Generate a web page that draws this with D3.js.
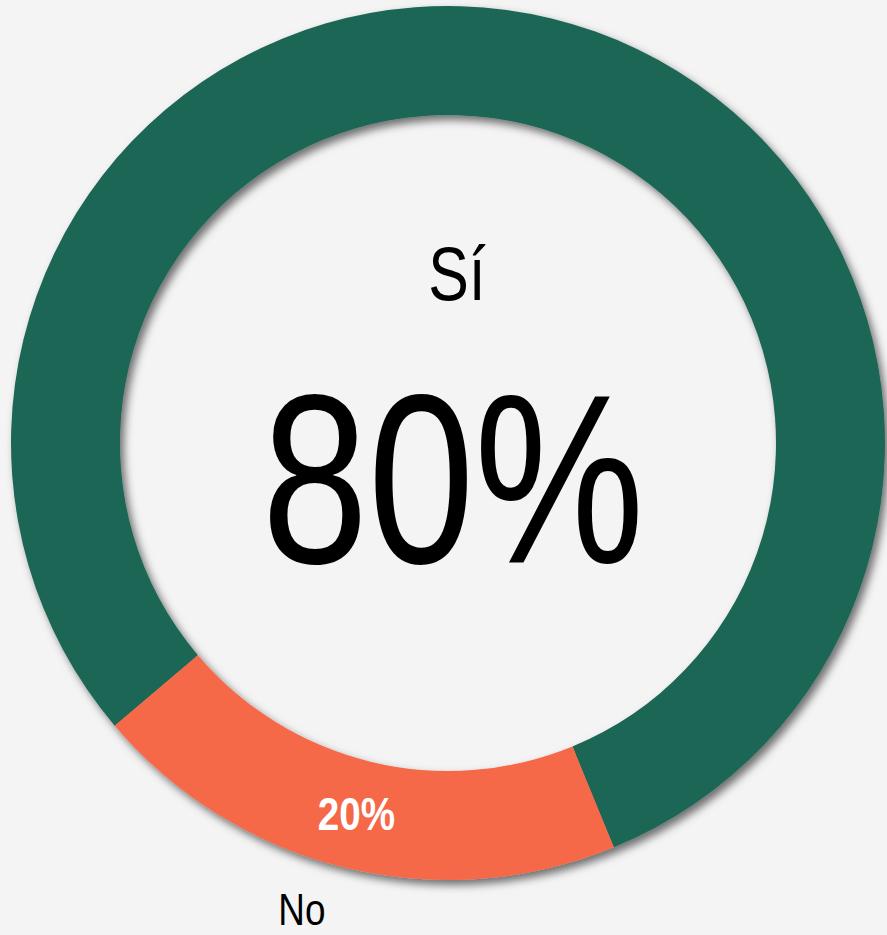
<!DOCTYPE html>
<head>
<style>
body { margin: 0; background: #f4f4f4; }
svg { display: block; }
</style>
</head>
<body>
<svg></svg>
<script src="https://cdn.jsdelivr.net/npm/d3@7"></script>
<script>

var labels = ["Sí", "No"];
var values = [80, 20];
var colors = ["#1d6657", "#f5694a"];

var width = 887, height = 935;
var cx = 448, cy = 443;
var outerR = 437, innerR = 328;

var svg = d3.select("svg").attr("width", width).attr("height", height);

var defs = svg.append("defs");
var filter = defs.append("filter").attr("id", "shadow")
    .attr("x", "-10%").attr("y", "-10%").attr("width", "120%").attr("height", "120%");
filter.append("feDropShadow")
    .attr("dx", 4).attr("dy", 5).attr("stdDeviation", 4)
    .attr("flood-color", "#000").attr("flood-opacity", 0.55);

var data = labels.map(function(l, i) { return {label: l, value: values[i]}; });

var start = -130.3 * Math.PI / 180;
var pie = d3.pie().sort(null).value(function(d) { return d.value; })
    .startAngle(start).endAngle(start + 2 * Math.PI);

var arc = d3.arc().innerRadius(innerR).outerRadius(outerR);

var g = svg.append("g").attr("transform", "translate(" + cx + "," + cy + ")");

var ring = g.append("g").attr("filter", "url(#shadow)");
var arcs = pie(data);

ring.selectAll("path")
    .data(arcs)
  .enter().append("path")
    .attr("d", arc)
    .attr("fill", function(d, i) { return colors[i]; });

var fmt = function(d) { return Math.round(d.value / d3.sum(values) * 100) + "%"; };
var font = "'Liberation Sans', Arial, sans-serif";

// big label in the middle (first slice)
g.append("text")
    .attr("transform", "translate(9,-143) scale(0.8,1)")
    .attr("text-anchor", "middle")
    .attr("font-family", font).attr("font-size", 76)
    .text(arcs[0].data.label);

g.append("text")
    .attr("transform", "translate(5,120) scale(0.79,1)")
    .attr("text-anchor", "middle")
    .attr("font-family", font).attr("font-size", 242)
    .text(fmt(arcs[0].data));

// small slice: value inside, name outside
var c = arc.centroid(arcs[1]);
g.append("text")
    .attr("transform", "translate(" + (c[0] - 1) + "," + (c[1] + 15) + ") scale(0.84,1)")
    .attr("text-anchor", "middle")
    .attr("font-family", font).attr("font-size", 46).attr("font-weight", "bold")
    .attr("fill", "#fff")
    .text(fmt(arcs[1].data));

var mid = (arcs[1].startAngle + arcs[1].endAngle) / 2 + 0.065;
var lr = 488;
g.append("text")
    .attr("transform", "translate(" + (lr * Math.sin(mid)) + "," + (-lr * Math.cos(mid) + 16) + ") scale(0.82,1)")
    .attr("text-anchor", "middle")
    .attr("font-family", font).attr("font-size", 45)
    .text(arcs[1].data.label);

</script>
</body>
